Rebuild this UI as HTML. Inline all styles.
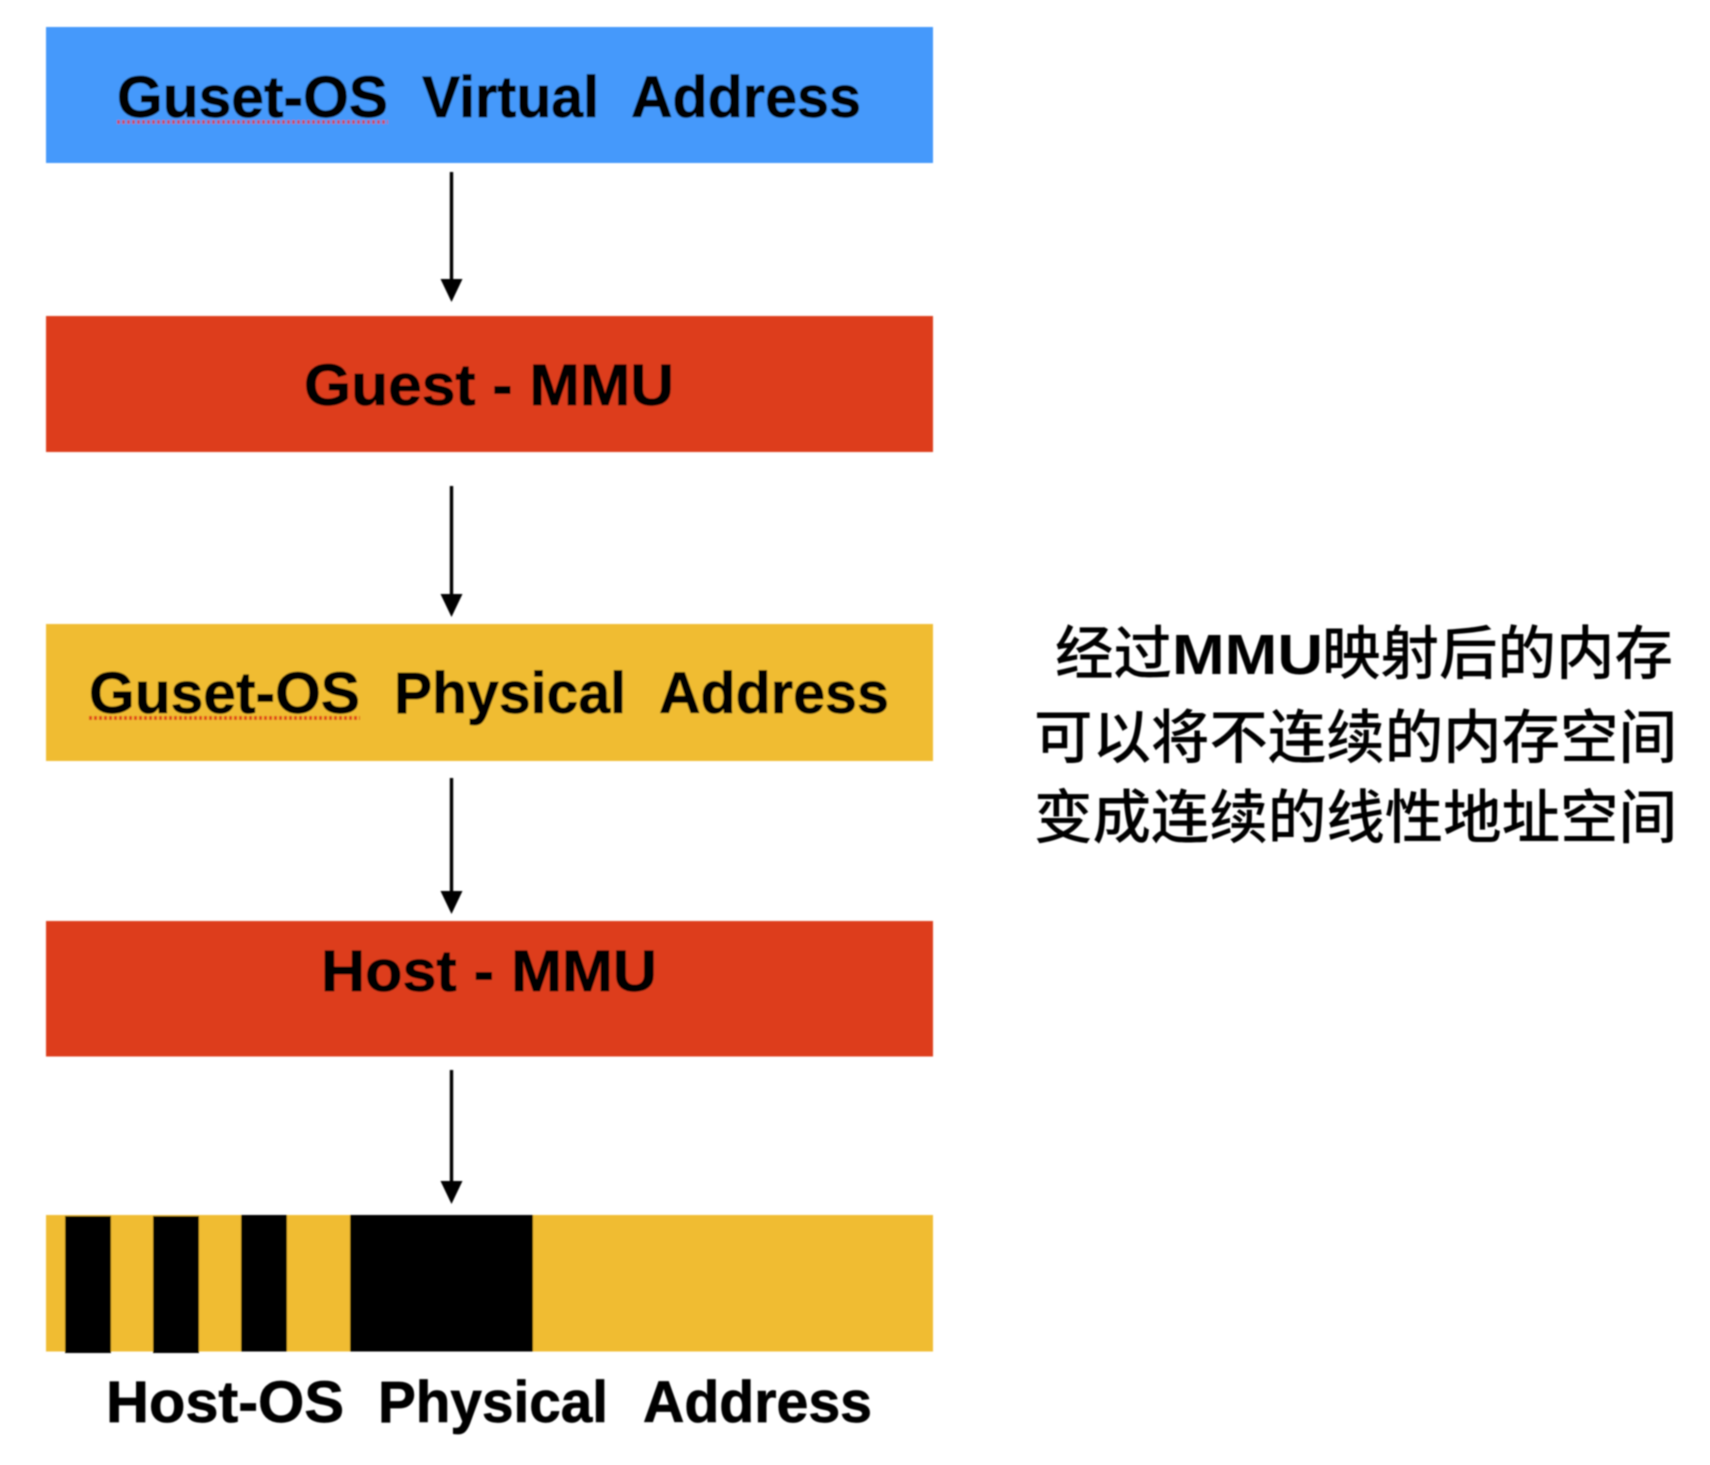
<!DOCTYPE html>
<html>
<head>
<meta charset="utf-8">
<style>
html,body{margin:0;padding:0;background:#fff;width:1710px;height:1465px;overflow:hidden}
svg{display:block}
text{font-family:"Liberation Sans","Noto Sans CJK SC",sans-serif;white-space:pre;fill:#000}
.l{font-size:58px;font-weight:bold;stroke:#000;stroke-width:.7px}
.c{font-size:58.5px;font-family:"Liberation Sans","Noto Sans CJK SC",sans-serif;font-weight:500}
</style>
</head>
<body>
<svg width="1710" height="1465" viewBox="0 0 1710 1465" xmlns="http://www.w3.org/2000/svg">
<defs><filter id="b" x="-5%" y="-5%" width="110%" height="110%"><feGaussianBlur stdDeviation="0.8"/></filter></defs>
<g filter="url(#b)">
<rect x="46" y="27" width="887" height="136" fill="#4499fb"/>
<rect x="46" y="316" width="887" height="136" fill="#dd3d1e"/>
<rect x="46" y="624" width="887" height="137" fill="#f0bc33"/>
<rect x="46" y="921" width="887" height="135.5" fill="#dd3d1e"/>
<rect x="46" y="1215" width="887" height="136.5" fill="#f0bc33"/>
<rect x="65" y="1216" width="46" height="137" fill="#000"/>
<rect x="153" y="1216" width="46" height="137" fill="#000"/>
<rect x="241" y="1215" width="46" height="136.5" fill="#000"/>
<rect x="350" y="1215" width="183" height="136.5" fill="#000"/>

<g stroke="#000" stroke-width="3.4" fill="none">
<line x1="451.5" y1="172" x2="451.5" y2="285"/>
<line x1="451.5" y1="486" x2="451.5" y2="600"/>
<line x1="451.5" y1="778" x2="451.5" y2="896"/>
<line x1="451.5" y1="1070" x2="451.5" y2="1186"/>
</g>
<g fill="#000">
<polygon points="440.5,279 462.5,279 451.5,302"/>
<polygon points="440.5,594 462.5,594 451.5,617"/>
<polygon points="440.5,891 462.5,891 451.5,914"/>
<polygon points="440.5,1181 462.5,1181 451.5,1204"/>
</g>

<text class="l" x="117" y="117" textLength="271" lengthAdjust="spacingAndGlyphs">Guset-OS</text>
<text class="l" x="422" y="117" textLength="177" lengthAdjust="spacingAndGlyphs">Virtual</text>
<text class="l" x="631" y="117" textLength="230" lengthAdjust="spacingAndGlyphs">Address</text>
<line x1="117" y1="122" x2="388" y2="122" stroke="#c4506a" stroke-width="4" stroke-dasharray="3 2"/>

<text class="l" x="304" y="405" textLength="370" lengthAdjust="spacingAndGlyphs">Guest - MMU</text>

<text class="l" x="89" y="713" textLength="271" lengthAdjust="spacingAndGlyphs">Guset-OS</text>
<text class="l" x="394" y="713" textLength="232" lengthAdjust="spacingAndGlyphs">Physical</text>
<text class="l" x="659" y="713" textLength="230" lengthAdjust="spacingAndGlyphs">Address</text>
<line x1="89" y1="718" x2="360" y2="718" stroke="#e0481c" stroke-width="4" stroke-dasharray="3 2"/>

<text class="l" x="321" y="991" textLength="336" lengthAdjust="spacingAndGlyphs">Host - MMU</text>

<text class="l" x="106" y="1422" textLength="238" lengthAdjust="spacingAndGlyphs">Host-OS</text>
<text class="l" x="378" y="1422" textLength="230" lengthAdjust="spacingAndGlyphs">Physical</text>
<text class="l" x="643" y="1422" textLength="229" lengthAdjust="spacingAndGlyphs">Address</text>

<text class="c" x="1055" y="674">经过</text>
<text x="1172" y="674" font-size="57" font-weight="bold" textLength="151" lengthAdjust="spacingAndGlyphs">MMU</text>
<text class="c" x="1322" y="674" textLength="351">映射后的内存</text>
<text class="c" x="1034" y="758" textLength="643">可以将不连续的内存空间</text>
<text class="c" x="1034" y="838" textLength="643">变成连续的线性地址空间</text>
</g>
</svg>
</body>
</html>
